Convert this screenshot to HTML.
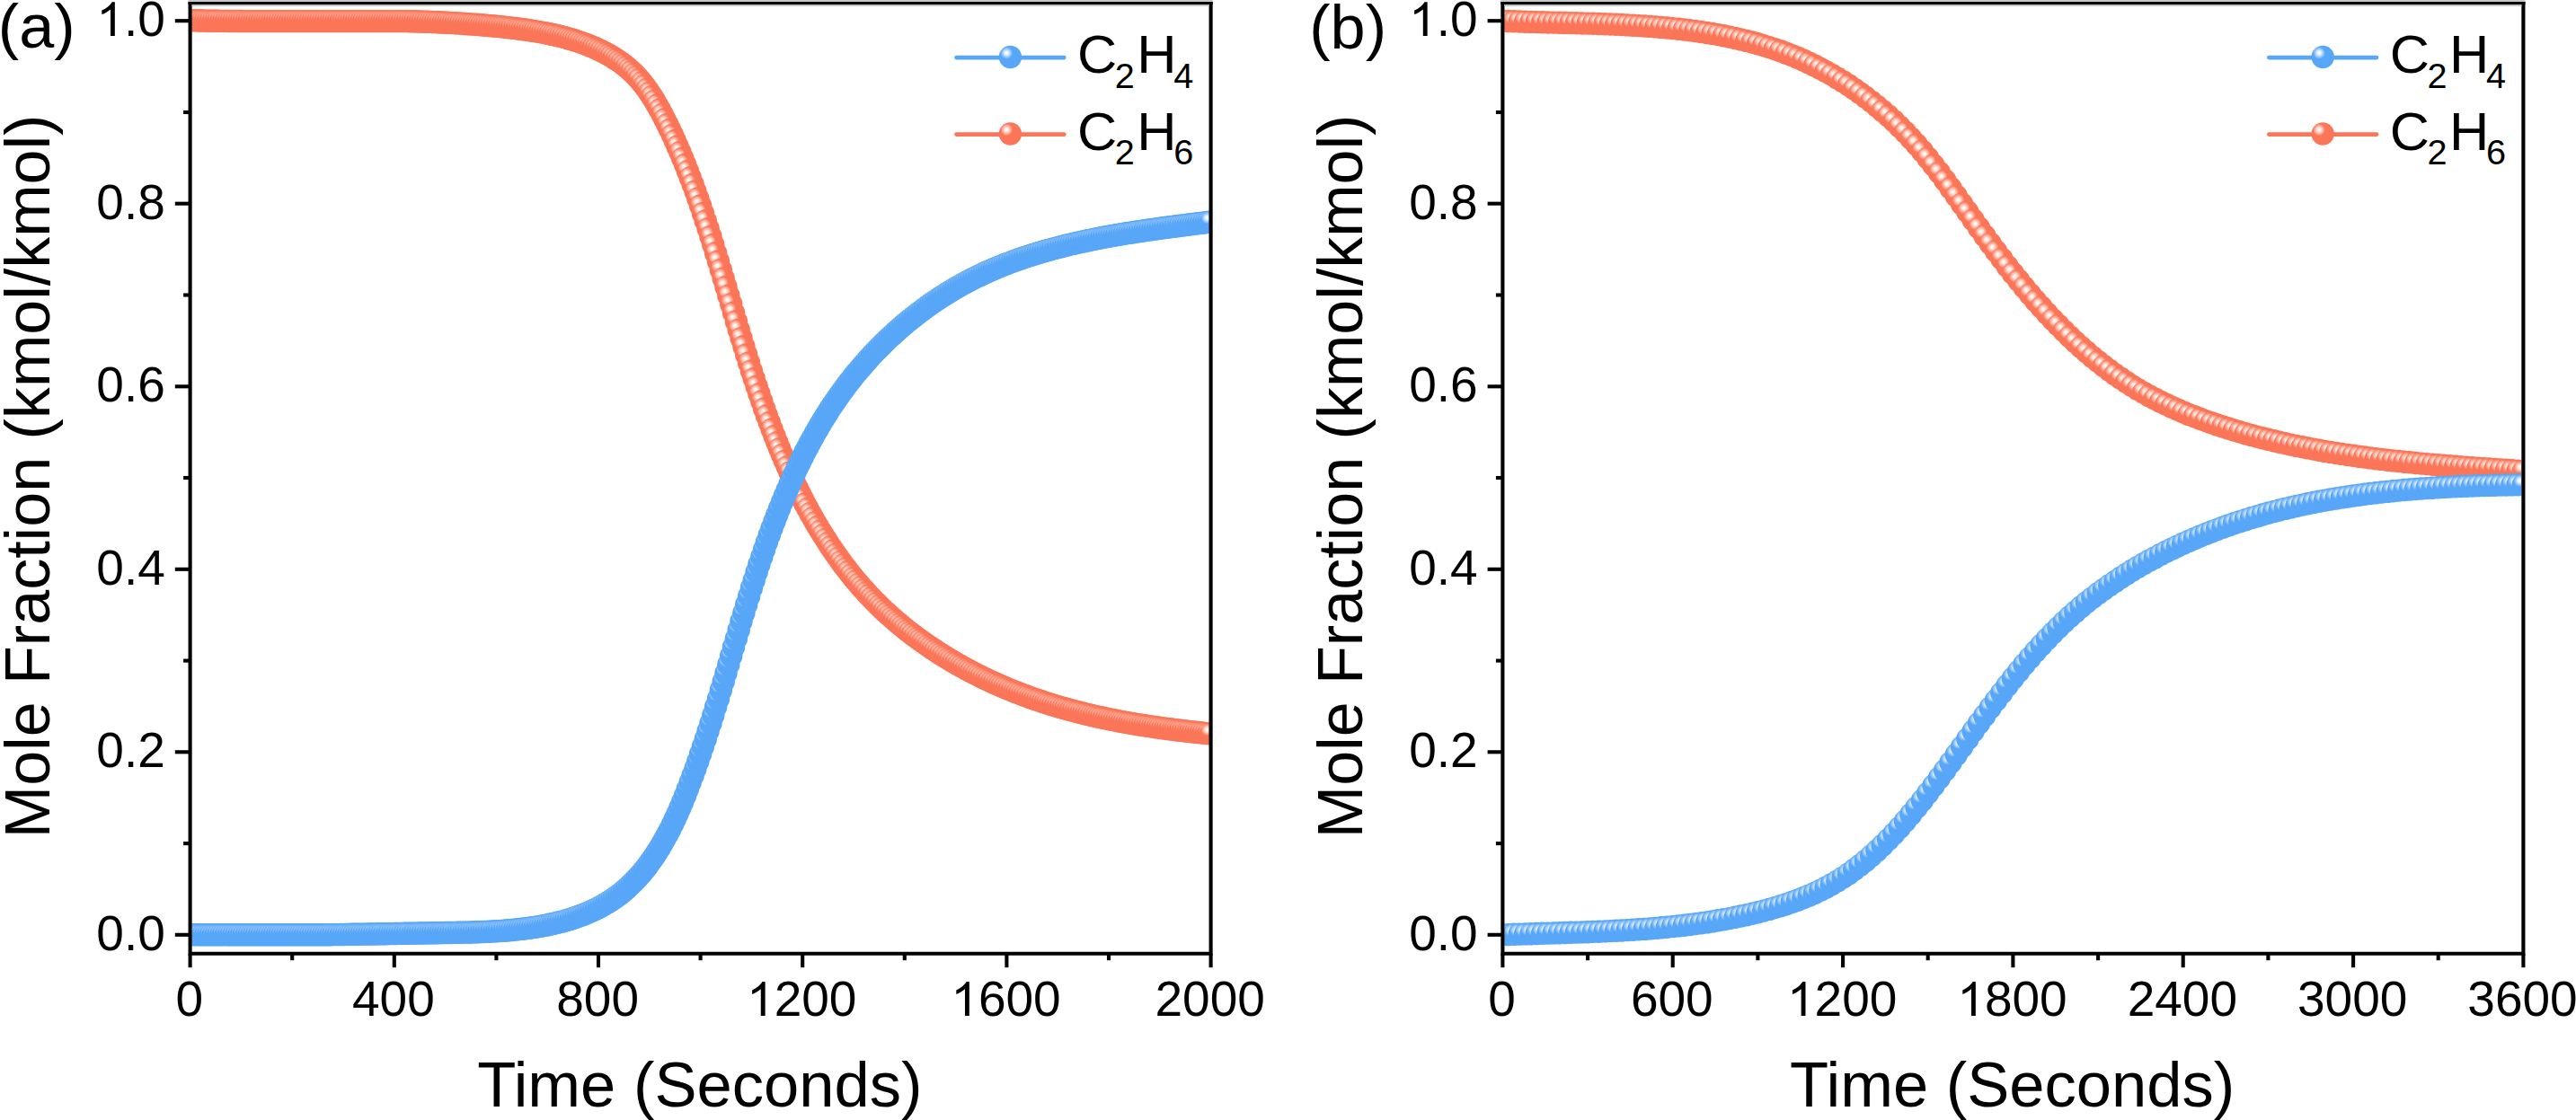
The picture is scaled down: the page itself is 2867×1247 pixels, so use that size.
<!DOCTYPE html>
<html><head><meta charset="utf-8"><style>
html,body{margin:0;padding:0;background:#fff;}
svg{display:block;}
#w{width:2867px;height:1247px;}
text{font-family:"Liberation Sans", sans-serif;fill:#000;}
.tl{font-size:55px;}
.at{font-size:69.5px;}
.pl{font-size:69px;}
.lg{font-size:59.5px;}
.sb{font-size:38.5px;}
</style></head>
<body><div id="w"><svg width="2867" height="1247" viewBox="0 0 2867 1247">
<rect width="2867" height="1247" fill="#fff"/>

<defs>
<radialGradient id="gb" cx="0.34" cy="0.32" r="0.27">
<stop offset="0" stop-color="#ffffff"/><stop offset="0.25" stop-color="#eef6ff"/><stop offset="1" stop-color="#57a6f8"/></radialGradient>
<radialGradient id="gr" cx="0.34" cy="0.32" r="0.27">
<stop offset="0" stop-color="#ffffff"/><stop offset="0.25" stop-color="#fff0ea"/><stop offset="1" stop-color="#fb7658"/></radialGradient>
<circle id="mb" r="12.7" fill="url(#gb)"/>
<circle id="mr" r="12.7" fill="url(#gr)"/>
</defs>
<clipPath id="ca"><rect x="213.7" y="5.4" width="1131.9" height="1054.2"/></clipPath>
<g clip-path="url(#ca)">
<use href="#mr" x="211.6" y="22.7"/>
<use href="#mr" x="214.4" y="22.8"/>
<use href="#mr" x="217.3" y="22.8"/>
<use href="#mr" x="220.1" y="22.9"/>
<use href="#mr" x="223.0" y="23.0"/>
<use href="#mr" x="225.8" y="23.0"/>
<use href="#mr" x="228.6" y="23.1"/>
<use href="#mr" x="231.5" y="23.2"/>
<use href="#mr" x="234.3" y="23.2"/>
<use href="#mr" x="237.2" y="23.3"/>
<use href="#mr" x="240.0" y="23.3"/>
<use href="#mr" x="242.8" y="23.3"/>
<use href="#mr" x="245.7" y="23.4"/>
<use href="#mr" x="248.5" y="23.4"/>
<use href="#mr" x="251.4" y="23.4"/>
<use href="#mr" x="254.2" y="23.5"/>
<use href="#mr" x="257.0" y="23.5"/>
<use href="#mr" x="259.9" y="23.5"/>
<use href="#mr" x="262.7" y="23.5"/>
<use href="#mr" x="265.6" y="23.5"/>
<use href="#mr" x="268.4" y="23.5"/>
<use href="#mr" x="271.2" y="23.6"/>
<use href="#mr" x="274.1" y="23.6"/>
<use href="#mr" x="276.9" y="23.6"/>
<use href="#mr" x="279.8" y="23.6"/>
<use href="#mr" x="282.6" y="23.6"/>
<use href="#mr" x="285.4" y="23.6"/>
<use href="#mr" x="288.3" y="23.6"/>
<use href="#mr" x="291.1" y="23.6"/>
<use href="#mr" x="294.0" y="23.6"/>
<use href="#mr" x="296.8" y="23.6"/>
<use href="#mr" x="299.6" y="23.6"/>
<use href="#mr" x="302.5" y="23.6"/>
<use href="#mr" x="305.3" y="23.6"/>
<use href="#mr" x="308.2" y="23.6"/>
<use href="#mr" x="311.0" y="23.6"/>
<use href="#mr" x="313.8" y="23.6"/>
<use href="#mr" x="316.7" y="23.6"/>
<use href="#mr" x="319.5" y="23.6"/>
<use href="#mr" x="322.4" y="23.6"/>
<use href="#mr" x="325.2" y="23.6"/>
<use href="#mr" x="328.0" y="23.6"/>
<use href="#mr" x="330.9" y="23.6"/>
<use href="#mr" x="333.7" y="23.6"/>
<use href="#mr" x="336.6" y="23.6"/>
<use href="#mr" x="339.4" y="23.6"/>
<use href="#mr" x="342.2" y="23.6"/>
<use href="#mr" x="345.1" y="23.6"/>
<use href="#mr" x="347.9" y="23.6"/>
<use href="#mr" x="350.8" y="23.6"/>
<use href="#mr" x="353.6" y="23.6"/>
<use href="#mr" x="356.4" y="23.6"/>
<use href="#mr" x="359.3" y="23.6"/>
<use href="#mr" x="362.1" y="23.6"/>
<use href="#mr" x="365.0" y="23.6"/>
<use href="#mr" x="367.8" y="23.6"/>
<use href="#mr" x="370.6" y="23.6"/>
<use href="#mr" x="373.5" y="23.6"/>
<use href="#mr" x="376.3" y="23.6"/>
<use href="#mr" x="379.2" y="23.6"/>
<use href="#mr" x="382.0" y="23.6"/>
<use href="#mr" x="384.8" y="23.6"/>
<use href="#mr" x="387.7" y="23.6"/>
<use href="#mr" x="390.5" y="23.6"/>
<use href="#mr" x="393.4" y="23.6"/>
<use href="#mr" x="396.2" y="23.6"/>
<use href="#mr" x="399.0" y="23.6"/>
<use href="#mr" x="401.9" y="23.6"/>
<use href="#mr" x="404.7" y="23.6"/>
<use href="#mr" x="407.6" y="23.6"/>
<use href="#mr" x="410.4" y="23.6"/>
<use href="#mr" x="413.2" y="23.6"/>
<use href="#mr" x="416.1" y="23.6"/>
<use href="#mr" x="418.9" y="23.6"/>
<use href="#mr" x="421.8" y="23.6"/>
<use href="#mr" x="424.6" y="23.6"/>
<use href="#mr" x="427.4" y="23.6"/>
<use href="#mr" x="430.3" y="23.6"/>
<use href="#mr" x="433.1" y="23.6"/>
<use href="#mr" x="436.0" y="23.6"/>
<use href="#mr" x="438.8" y="23.6"/>
<use href="#mr" x="441.6" y="23.6"/>
<use href="#mr" x="444.5" y="23.6"/>
<use href="#mr" x="447.3" y="23.6"/>
<use href="#mr" x="450.2" y="23.6"/>
<use href="#mr" x="453.0" y="23.6"/>
<use href="#mr" x="455.8" y="23.7"/>
<use href="#mr" x="458.7" y="23.8"/>
<use href="#mr" x="461.5" y="23.8"/>
<use href="#mr" x="464.4" y="23.9"/>
<use href="#mr" x="467.2" y="24.0"/>
<use href="#mr" x="470.0" y="24.1"/>
<use href="#mr" x="472.9" y="24.2"/>
<use href="#mr" x="475.7" y="24.3"/>
<use href="#mr" x="478.6" y="24.4"/>
<use href="#mr" x="481.4" y="24.5"/>
<use href="#mr" x="484.2" y="24.6"/>
<use href="#mr" x="487.1" y="24.7"/>
<use href="#mr" x="489.9" y="24.9"/>
<use href="#mr" x="492.8" y="25.0"/>
<use href="#mr" x="495.6" y="25.1"/>
<use href="#mr" x="498.4" y="25.3"/>
<use href="#mr" x="501.3" y="25.4"/>
<use href="#mr" x="504.1" y="25.6"/>
<use href="#mr" x="507.0" y="25.8"/>
<use href="#mr" x="509.8" y="25.9"/>
<use href="#mr" x="512.6" y="26.1"/>
<use href="#mr" x="515.5" y="26.3"/>
<use href="#mr" x="518.3" y="26.5"/>
<use href="#mr" x="521.2" y="26.7"/>
<use href="#mr" x="524.0" y="26.9"/>
<use href="#mr" x="526.8" y="27.1"/>
<use href="#mr" x="529.7" y="27.3"/>
<use href="#mr" x="532.5" y="27.5"/>
<use href="#mr" x="535.4" y="27.7"/>
<use href="#mr" x="538.2" y="28.0"/>
<use href="#mr" x="541.0" y="28.2"/>
<use href="#mr" x="543.9" y="28.5"/>
<use href="#mr" x="546.7" y="28.7"/>
<use href="#mr" x="549.6" y="29.0"/>
<use href="#mr" x="552.4" y="29.3"/>
<use href="#mr" x="555.2" y="29.6"/>
<use href="#mr" x="558.1" y="29.8"/>
<use href="#mr" x="560.9" y="30.1"/>
<use href="#mr" x="563.8" y="30.5"/>
<use href="#mr" x="566.6" y="30.8"/>
<use href="#mr" x="569.4" y="31.1"/>
<use href="#mr" x="572.3" y="31.4"/>
<use href="#mr" x="575.1" y="31.8"/>
<use href="#mr" x="578.0" y="32.1"/>
<use href="#mr" x="580.8" y="32.5"/>
<use href="#mr" x="583.6" y="32.9"/>
<use href="#mr" x="586.5" y="33.3"/>
<use href="#mr" x="589.3" y="33.7"/>
<use href="#mr" x="592.2" y="34.2"/>
<use href="#mr" x="595.0" y="34.6"/>
<use href="#mr" x="597.8" y="35.1"/>
<use href="#mr" x="600.7" y="35.6"/>
<use href="#mr" x="603.5" y="36.1"/>
<use href="#mr" x="606.4" y="36.6"/>
<use href="#mr" x="609.2" y="37.2"/>
<use href="#mr" x="612.0" y="37.8"/>
<use href="#mr" x="614.9" y="38.4"/>
<use href="#mr" x="617.7" y="39.0"/>
<use href="#mr" x="620.6" y="39.7"/>
<use href="#mr" x="623.4" y="40.3"/>
<use href="#mr" x="626.2" y="41.1"/>
<use href="#mr" x="629.1" y="41.8"/>
<use href="#mr" x="631.9" y="42.6"/>
<use href="#mr" x="634.8" y="43.4"/>
<use href="#mr" x="637.6" y="44.3"/>
<use href="#mr" x="640.4" y="45.2"/>
<use href="#mr" x="643.3" y="46.1"/>
<use href="#mr" x="646.1" y="47.1"/>
<use href="#mr" x="649.0" y="48.1"/>
<use href="#mr" x="651.8" y="49.1"/>
<use href="#mr" x="654.6" y="50.2"/>
<use href="#mr" x="657.5" y="51.4"/>
<use href="#mr" x="660.3" y="52.6"/>
<use href="#mr" x="663.2" y="53.8"/>
<use href="#mr" x="666.0" y="55.2"/>
<use href="#mr" x="668.8" y="56.5"/>
<use href="#mr" x="671.7" y="57.9"/>
<use href="#mr" x="674.5" y="59.4"/>
<use href="#mr" x="677.4" y="61.0"/>
<use href="#mr" x="680.2" y="62.6"/>
<use href="#mr" x="683.0" y="64.4"/>
<use href="#mr" x="685.9" y="66.2"/>
<use href="#mr" x="688.7" y="68.1"/>
<use href="#mr" x="691.6" y="70.1"/>
<use href="#mr" x="694.4" y="72.2"/>
<use href="#mr" x="697.2" y="74.5"/>
<use href="#mr" x="700.1" y="76.9"/>
<use href="#mr" x="702.9" y="79.5"/>
<use href="#mr" x="705.8" y="82.2"/>
<use href="#mr" x="708.6" y="85.2"/>
<use href="#mr" x="711.4" y="88.3"/>
<use href="#mr" x="714.3" y="91.7"/>
<use href="#mr" x="717.1" y="95.3"/>
<use href="#mr" x="720.0" y="99.2"/>
<use href="#mr" x="722.8" y="103.2"/>
<use href="#mr" x="725.6" y="107.5"/>
<use href="#mr" x="728.5" y="112.1"/>
<use href="#mr" x="731.3" y="116.9"/>
<use href="#mr" x="734.2" y="122.0"/>
<use href="#mr" x="737.0" y="127.2"/>
<use href="#mr" x="739.8" y="132.7"/>
<use href="#mr" x="742.7" y="138.4"/>
<use href="#mr" x="745.5" y="144.2"/>
<use href="#mr" x="748.4" y="150.3"/>
<use href="#mr" x="751.2" y="156.5"/>
<use href="#mr" x="754.0" y="162.9"/>
<use href="#mr" x="756.9" y="169.5"/>
<use href="#mr" x="759.7" y="176.3"/>
<use href="#mr" x="762.6" y="183.3"/>
<use href="#mr" x="765.4" y="190.4"/>
<use href="#mr" x="768.2" y="197.7"/>
<use href="#mr" x="771.1" y="205.3"/>
<use href="#mr" x="773.9" y="213.0"/>
<use href="#mr" x="776.8" y="220.9"/>
<use href="#mr" x="779.6" y="229.0"/>
<use href="#mr" x="782.4" y="237.4"/>
<use href="#mr" x="785.3" y="245.9"/>
<use href="#mr" x="788.1" y="254.6"/>
<use href="#mr" x="791.0" y="263.4"/>
<use href="#mr" x="793.8" y="272.5"/>
<use href="#mr" x="796.6" y="281.7"/>
<use href="#mr" x="799.5" y="291.0"/>
<use href="#mr" x="802.3" y="300.4"/>
<use href="#mr" x="805.2" y="309.9"/>
<use href="#mr" x="808.0" y="319.5"/>
<use href="#mr" x="810.8" y="329.1"/>
<use href="#mr" x="813.7" y="338.6"/>
<use href="#mr" x="816.5" y="348.2"/>
<use href="#mr" x="819.4" y="357.7"/>
<use href="#mr" x="822.2" y="367.2"/>
<use href="#mr" x="825.0" y="376.6"/>
<use href="#mr" x="827.9" y="385.8"/>
<use href="#mr" x="830.7" y="395.0"/>
<use href="#mr" x="833.6" y="404.0"/>
<use href="#mr" x="836.4" y="412.9"/>
<use href="#mr" x="839.2" y="421.6"/>
<use href="#mr" x="842.1" y="430.2"/>
<use href="#mr" x="844.9" y="438.6"/>
<use href="#mr" x="847.8" y="446.8"/>
<use href="#mr" x="850.6" y="454.9"/>
<use href="#mr" x="853.4" y="462.8"/>
<use href="#mr" x="856.3" y="470.5"/>
<use href="#mr" x="859.1" y="478.0"/>
<use href="#mr" x="862.0" y="485.4"/>
<use href="#mr" x="864.8" y="492.6"/>
<use href="#mr" x="867.6" y="499.6"/>
<use href="#mr" x="870.5" y="506.4"/>
<use href="#mr" x="873.3" y="513.1"/>
<use href="#mr" x="876.2" y="519.6"/>
<use href="#mr" x="879.0" y="525.9"/>
<use href="#mr" x="881.8" y="532.1"/>
<use href="#mr" x="884.7" y="538.2"/>
<use href="#mr" x="887.5" y="544.1"/>
<use href="#mr" x="890.4" y="549.8"/>
<use href="#mr" x="893.2" y="555.4"/>
<use href="#mr" x="896.0" y="560.9"/>
<use href="#mr" x="898.9" y="566.2"/>
<use href="#mr" x="901.7" y="571.4"/>
<use href="#mr" x="904.6" y="576.5"/>
<use href="#mr" x="907.4" y="581.5"/>
<use href="#mr" x="910.2" y="586.3"/>
<use href="#mr" x="913.1" y="591.0"/>
<use href="#mr" x="915.9" y="595.6"/>
<use href="#mr" x="918.8" y="600.1"/>
<use href="#mr" x="921.6" y="604.5"/>
<use href="#mr" x="924.4" y="608.8"/>
<use href="#mr" x="927.3" y="613.0"/>
<use href="#mr" x="930.1" y="617.1"/>
<use href="#mr" x="933.0" y="621.1"/>
<use href="#mr" x="935.8" y="625.1"/>
<use href="#mr" x="938.6" y="628.9"/>
<use href="#mr" x="941.5" y="632.6"/>
<use href="#mr" x="944.3" y="636.3"/>
<use href="#mr" x="947.2" y="639.9"/>
<use href="#mr" x="950.0" y="643.4"/>
<use href="#mr" x="952.8" y="646.8"/>
<use href="#mr" x="955.7" y="650.1"/>
<use href="#mr" x="958.5" y="653.4"/>
<use href="#mr" x="961.4" y="656.6"/>
<use href="#mr" x="964.2" y="659.7"/>
<use href="#mr" x="967.0" y="662.8"/>
<use href="#mr" x="969.9" y="665.8"/>
<use href="#mr" x="972.7" y="668.7"/>
<use href="#mr" x="975.6" y="671.6"/>
<use href="#mr" x="978.4" y="674.4"/>
<use href="#mr" x="981.2" y="677.2"/>
<use href="#mr" x="984.1" y="679.9"/>
<use href="#mr" x="986.9" y="682.5"/>
<use href="#mr" x="989.8" y="685.1"/>
<use href="#mr" x="992.6" y="687.6"/>
<use href="#mr" x="995.4" y="690.1"/>
<use href="#mr" x="998.3" y="692.6"/>
<use href="#mr" x="1001.1" y="694.9"/>
<use href="#mr" x="1004.0" y="697.3"/>
<use href="#mr" x="1006.8" y="699.6"/>
<use href="#mr" x="1009.6" y="701.9"/>
<use href="#mr" x="1012.5" y="704.1"/>
<use href="#mr" x="1015.3" y="706.3"/>
<use href="#mr" x="1018.2" y="708.4"/>
<use href="#mr" x="1021.0" y="710.5"/>
<use href="#mr" x="1023.8" y="712.6"/>
<use href="#mr" x="1026.7" y="714.6"/>
<use href="#mr" x="1029.5" y="716.6"/>
<use href="#mr" x="1032.4" y="718.6"/>
<use href="#mr" x="1035.2" y="720.5"/>
<use href="#mr" x="1038.0" y="722.4"/>
<use href="#mr" x="1040.9" y="724.3"/>
<use href="#mr" x="1043.7" y="726.2"/>
<use href="#mr" x="1046.6" y="728.0"/>
<use href="#mr" x="1049.4" y="729.8"/>
<use href="#mr" x="1052.2" y="731.5"/>
<use href="#mr" x="1055.1" y="733.3"/>
<use href="#mr" x="1057.9" y="735.0"/>
<use href="#mr" x="1060.8" y="736.7"/>
<use href="#mr" x="1063.6" y="738.3"/>
<use href="#mr" x="1066.4" y="739.9"/>
<use href="#mr" x="1069.3" y="741.5"/>
<use href="#mr" x="1072.1" y="743.1"/>
<use href="#mr" x="1075.0" y="744.7"/>
<use href="#mr" x="1077.8" y="746.2"/>
<use href="#mr" x="1080.6" y="747.7"/>
<use href="#mr" x="1083.5" y="749.2"/>
<use href="#mr" x="1086.3" y="750.6"/>
<use href="#mr" x="1089.2" y="752.1"/>
<use href="#mr" x="1092.0" y="753.5"/>
<use href="#mr" x="1094.8" y="754.9"/>
<use href="#mr" x="1097.7" y="756.2"/>
<use href="#mr" x="1100.5" y="757.6"/>
<use href="#mr" x="1103.4" y="758.9"/>
<use href="#mr" x="1106.2" y="760.2"/>
<use href="#mr" x="1109.0" y="761.5"/>
<use href="#mr" x="1111.9" y="762.8"/>
<use href="#mr" x="1114.7" y="764.0"/>
<use href="#mr" x="1117.6" y="765.2"/>
<use href="#mr" x="1120.4" y="766.4"/>
<use href="#mr" x="1123.2" y="767.6"/>
<use href="#mr" x="1126.1" y="768.8"/>
<use href="#mr" x="1128.9" y="769.9"/>
<use href="#mr" x="1131.8" y="771.0"/>
<use href="#mr" x="1134.6" y="772.1"/>
<use href="#mr" x="1137.4" y="773.2"/>
<use href="#mr" x="1140.3" y="774.3"/>
<use href="#mr" x="1143.1" y="775.3"/>
<use href="#mr" x="1146.0" y="776.4"/>
<use href="#mr" x="1148.8" y="777.4"/>
<use href="#mr" x="1151.6" y="778.4"/>
<use href="#mr" x="1154.5" y="779.3"/>
<use href="#mr" x="1157.3" y="780.3"/>
<use href="#mr" x="1160.2" y="781.2"/>
<use href="#mr" x="1163.0" y="782.2"/>
<use href="#mr" x="1165.8" y="783.1"/>
<use href="#mr" x="1168.7" y="784.0"/>
<use href="#mr" x="1171.5" y="784.9"/>
<use href="#mr" x="1174.4" y="785.7"/>
<use href="#mr" x="1177.2" y="786.6"/>
<use href="#mr" x="1180.0" y="787.4"/>
<use href="#mr" x="1182.9" y="788.2"/>
<use href="#mr" x="1185.7" y="789.0"/>
<use href="#mr" x="1188.6" y="789.8"/>
<use href="#mr" x="1191.4" y="790.6"/>
<use href="#mr" x="1194.2" y="791.3"/>
<use href="#mr" x="1197.1" y="792.1"/>
<use href="#mr" x="1199.9" y="792.8"/>
<use href="#mr" x="1202.8" y="793.5"/>
<use href="#mr" x="1205.6" y="794.2"/>
<use href="#mr" x="1208.4" y="794.9"/>
<use href="#mr" x="1211.3" y="795.6"/>
<use href="#mr" x="1214.1" y="796.3"/>
<use href="#mr" x="1217.0" y="796.9"/>
<use href="#mr" x="1219.8" y="797.6"/>
<use href="#mr" x="1222.6" y="798.2"/>
<use href="#mr" x="1225.5" y="798.8"/>
<use href="#mr" x="1228.3" y="799.4"/>
<use href="#mr" x="1231.2" y="800.0"/>
<use href="#mr" x="1234.0" y="800.6"/>
<use href="#mr" x="1236.8" y="801.2"/>
<use href="#mr" x="1239.7" y="801.8"/>
<use href="#mr" x="1242.5" y="802.3"/>
<use href="#mr" x="1245.4" y="802.9"/>
<use href="#mr" x="1248.2" y="803.4"/>
<use href="#mr" x="1251.0" y="803.9"/>
<use href="#mr" x="1253.9" y="804.4"/>
<use href="#mr" x="1256.7" y="804.9"/>
<use href="#mr" x="1259.6" y="805.4"/>
<use href="#mr" x="1262.4" y="805.9"/>
<use href="#mr" x="1265.2" y="806.4"/>
<use href="#mr" x="1268.1" y="806.9"/>
<use href="#mr" x="1270.9" y="807.3"/>
<use href="#mr" x="1273.8" y="807.8"/>
<use href="#mr" x="1276.6" y="808.2"/>
<use href="#mr" x="1279.4" y="808.6"/>
<use href="#mr" x="1282.3" y="809.1"/>
<use href="#mr" x="1285.1" y="809.5"/>
<use href="#mr" x="1288.0" y="809.9"/>
<use href="#mr" x="1290.8" y="810.3"/>
<use href="#mr" x="1293.6" y="810.7"/>
<use href="#mr" x="1296.5" y="811.1"/>
<use href="#mr" x="1299.3" y="811.5"/>
<use href="#mr" x="1302.2" y="811.8"/>
<use href="#mr" x="1305.0" y="812.2"/>
<use href="#mr" x="1307.8" y="812.6"/>
<use href="#mr" x="1310.7" y="812.9"/>
<use href="#mr" x="1313.5" y="813.3"/>
<use href="#mr" x="1316.4" y="813.6"/>
<use href="#mr" x="1319.2" y="813.9"/>
<use href="#mr" x="1322.0" y="814.3"/>
<use href="#mr" x="1324.9" y="814.6"/>
<use href="#mr" x="1327.7" y="814.9"/>
<use href="#mr" x="1330.6" y="815.2"/>
<use href="#mr" x="1333.4" y="815.5"/>
<use href="#mr" x="1336.2" y="815.8"/>
<use href="#mr" x="1339.1" y="816.1"/>
<use href="#mr" x="1341.9" y="816.4"/>
<use href="#mr" x="1344.8" y="816.7"/>
<use href="#mr" x="1347.6" y="817.0"/>
<use href="#mb" x="211.6" y="1040.8"/>
<use href="#mb" x="214.4" y="1040.8"/>
<use href="#mb" x="217.3" y="1040.8"/>
<use href="#mb" x="220.1" y="1040.8"/>
<use href="#mb" x="223.0" y="1040.8"/>
<use href="#mb" x="225.8" y="1040.8"/>
<use href="#mb" x="228.6" y="1040.8"/>
<use href="#mb" x="231.5" y="1040.8"/>
<use href="#mb" x="234.3" y="1040.8"/>
<use href="#mb" x="237.2" y="1040.8"/>
<use href="#mb" x="240.0" y="1040.8"/>
<use href="#mb" x="242.8" y="1040.8"/>
<use href="#mb" x="245.7" y="1040.8"/>
<use href="#mb" x="248.5" y="1040.8"/>
<use href="#mb" x="251.4" y="1040.8"/>
<use href="#mb" x="254.2" y="1040.8"/>
<use href="#mb" x="257.0" y="1040.8"/>
<use href="#mb" x="259.9" y="1040.8"/>
<use href="#mb" x="262.7" y="1040.8"/>
<use href="#mb" x="265.6" y="1040.8"/>
<use href="#mb" x="268.4" y="1040.8"/>
<use href="#mb" x="271.2" y="1040.8"/>
<use href="#mb" x="274.1" y="1040.8"/>
<use href="#mb" x="276.9" y="1040.8"/>
<use href="#mb" x="279.8" y="1040.8"/>
<use href="#mb" x="282.6" y="1040.8"/>
<use href="#mb" x="285.4" y="1040.8"/>
<use href="#mb" x="288.3" y="1040.8"/>
<use href="#mb" x="291.1" y="1040.8"/>
<use href="#mb" x="294.0" y="1040.8"/>
<use href="#mb" x="296.8" y="1040.8"/>
<use href="#mb" x="299.6" y="1040.8"/>
<use href="#mb" x="302.5" y="1040.8"/>
<use href="#mb" x="305.3" y="1040.8"/>
<use href="#mb" x="308.2" y="1040.8"/>
<use href="#mb" x="311.0" y="1040.8"/>
<use href="#mb" x="313.8" y="1040.8"/>
<use href="#mb" x="316.7" y="1040.8"/>
<use href="#mb" x="319.5" y="1040.8"/>
<use href="#mb" x="322.4" y="1040.8"/>
<use href="#mb" x="325.2" y="1040.8"/>
<use href="#mb" x="328.0" y="1040.8"/>
<use href="#mb" x="330.9" y="1040.8"/>
<use href="#mb" x="333.7" y="1040.8"/>
<use href="#mb" x="336.6" y="1040.8"/>
<use href="#mb" x="339.4" y="1040.8"/>
<use href="#mb" x="342.2" y="1040.8"/>
<use href="#mb" x="345.1" y="1040.8"/>
<use href="#mb" x="347.9" y="1040.8"/>
<use href="#mb" x="350.8" y="1040.8"/>
<use href="#mb" x="353.6" y="1040.8"/>
<use href="#mb" x="356.4" y="1040.8"/>
<use href="#mb" x="359.3" y="1040.8"/>
<use href="#mb" x="362.1" y="1040.8"/>
<use href="#mb" x="365.0" y="1040.7"/>
<use href="#mb" x="367.8" y="1040.7"/>
<use href="#mb" x="370.6" y="1040.6"/>
<use href="#mb" x="373.5" y="1040.6"/>
<use href="#mb" x="376.3" y="1040.6"/>
<use href="#mb" x="379.2" y="1040.5"/>
<use href="#mb" x="382.0" y="1040.5"/>
<use href="#mb" x="384.8" y="1040.4"/>
<use href="#mb" x="387.7" y="1040.4"/>
<use href="#mb" x="390.5" y="1040.3"/>
<use href="#mb" x="393.4" y="1040.3"/>
<use href="#mb" x="396.2" y="1040.2"/>
<use href="#mb" x="399.0" y="1040.2"/>
<use href="#mb" x="401.9" y="1040.1"/>
<use href="#mb" x="404.7" y="1040.1"/>
<use href="#mb" x="407.6" y="1040.1"/>
<use href="#mb" x="410.4" y="1040.0"/>
<use href="#mb" x="413.2" y="1040.0"/>
<use href="#mb" x="416.1" y="1039.9"/>
<use href="#mb" x="418.9" y="1039.9"/>
<use href="#mb" x="421.8" y="1039.8"/>
<use href="#mb" x="424.6" y="1039.8"/>
<use href="#mb" x="427.4" y="1039.7"/>
<use href="#mb" x="430.3" y="1039.7"/>
<use href="#mb" x="433.1" y="1039.6"/>
<use href="#mb" x="436.0" y="1039.6"/>
<use href="#mb" x="438.8" y="1039.5"/>
<use href="#mb" x="441.6" y="1039.5"/>
<use href="#mb" x="444.5" y="1039.4"/>
<use href="#mb" x="447.3" y="1039.4"/>
<use href="#mb" x="450.2" y="1039.3"/>
<use href="#mb" x="453.0" y="1039.3"/>
<use href="#mb" x="455.8" y="1039.2"/>
<use href="#mb" x="458.7" y="1039.2"/>
<use href="#mb" x="461.5" y="1039.1"/>
<use href="#mb" x="464.4" y="1039.1"/>
<use href="#mb" x="467.2" y="1039.0"/>
<use href="#mb" x="470.0" y="1039.0"/>
<use href="#mb" x="472.9" y="1038.9"/>
<use href="#mb" x="475.7" y="1038.9"/>
<use href="#mb" x="478.6" y="1038.8"/>
<use href="#mb" x="481.4" y="1038.8"/>
<use href="#mb" x="484.2" y="1038.7"/>
<use href="#mb" x="487.1" y="1038.7"/>
<use href="#mb" x="489.9" y="1038.6"/>
<use href="#mb" x="492.8" y="1038.6"/>
<use href="#mb" x="495.6" y="1038.5"/>
<use href="#mb" x="498.4" y="1038.5"/>
<use href="#mb" x="501.3" y="1038.5"/>
<use href="#mb" x="504.1" y="1038.4"/>
<use href="#mb" x="507.0" y="1038.4"/>
<use href="#mb" x="509.8" y="1038.3"/>
<use href="#mb" x="512.6" y="1038.2"/>
<use href="#mb" x="515.5" y="1038.2"/>
<use href="#mb" x="518.3" y="1038.1"/>
<use href="#mb" x="521.2" y="1038.1"/>
<use href="#mb" x="524.0" y="1038.0"/>
<use href="#mb" x="526.8" y="1037.9"/>
<use href="#mb" x="529.7" y="1037.8"/>
<use href="#mb" x="532.5" y="1037.7"/>
<use href="#mb" x="535.4" y="1037.6"/>
<use href="#mb" x="538.2" y="1037.5"/>
<use href="#mb" x="541.0" y="1037.4"/>
<use href="#mb" x="543.9" y="1037.2"/>
<use href="#mb" x="546.7" y="1037.1"/>
<use href="#mb" x="549.6" y="1036.9"/>
<use href="#mb" x="552.4" y="1036.8"/>
<use href="#mb" x="555.2" y="1036.6"/>
<use href="#mb" x="558.1" y="1036.4"/>
<use href="#mb" x="560.9" y="1036.2"/>
<use href="#mb" x="563.8" y="1036.0"/>
<use href="#mb" x="566.6" y="1035.7"/>
<use href="#mb" x="569.4" y="1035.5"/>
<use href="#mb" x="572.3" y="1035.2"/>
<use href="#mb" x="575.1" y="1034.9"/>
<use href="#mb" x="578.0" y="1034.6"/>
<use href="#mb" x="580.8" y="1034.3"/>
<use href="#mb" x="583.6" y="1034.0"/>
<use href="#mb" x="586.5" y="1033.6"/>
<use href="#mb" x="589.3" y="1033.2"/>
<use href="#mb" x="592.2" y="1032.8"/>
<use href="#mb" x="595.0" y="1032.4"/>
<use href="#mb" x="597.8" y="1031.9"/>
<use href="#mb" x="600.7" y="1031.4"/>
<use href="#mb" x="603.5" y="1030.9"/>
<use href="#mb" x="606.4" y="1030.4"/>
<use href="#mb" x="609.2" y="1029.9"/>
<use href="#mb" x="612.0" y="1029.3"/>
<use href="#mb" x="614.9" y="1028.6"/>
<use href="#mb" x="617.7" y="1028.0"/>
<use href="#mb" x="620.6" y="1027.3"/>
<use href="#mb" x="623.4" y="1026.6"/>
<use href="#mb" x="626.2" y="1025.9"/>
<use href="#mb" x="629.1" y="1025.1"/>
<use href="#mb" x="631.9" y="1024.2"/>
<use href="#mb" x="634.8" y="1023.4"/>
<use href="#mb" x="637.6" y="1022.5"/>
<use href="#mb" x="640.4" y="1021.5"/>
<use href="#mb" x="643.3" y="1020.5"/>
<use href="#mb" x="646.1" y="1019.5"/>
<use href="#mb" x="649.0" y="1018.4"/>
<use href="#mb" x="651.8" y="1017.3"/>
<use href="#mb" x="654.6" y="1016.1"/>
<use href="#mb" x="657.5" y="1014.8"/>
<use href="#mb" x="660.3" y="1013.5"/>
<use href="#mb" x="663.2" y="1012.1"/>
<use href="#mb" x="666.0" y="1010.7"/>
<use href="#mb" x="668.8" y="1009.2"/>
<use href="#mb" x="671.7" y="1007.6"/>
<use href="#mb" x="674.5" y="1006.0"/>
<use href="#mb" x="677.4" y="1004.2"/>
<use href="#mb" x="680.2" y="1002.4"/>
<use href="#mb" x="683.0" y="1000.5"/>
<use href="#mb" x="685.9" y="998.5"/>
<use href="#mb" x="688.7" y="996.4"/>
<use href="#mb" x="691.6" y="994.2"/>
<use href="#mb" x="694.4" y="991.9"/>
<use href="#mb" x="697.2" y="989.4"/>
<use href="#mb" x="700.1" y="986.8"/>
<use href="#mb" x="702.9" y="984.1"/>
<use href="#mb" x="705.8" y="981.3"/>
<use href="#mb" x="708.6" y="978.3"/>
<use href="#mb" x="711.4" y="975.2"/>
<use href="#mb" x="714.3" y="971.9"/>
<use href="#mb" x="717.1" y="968.5"/>
<use href="#mb" x="720.0" y="964.9"/>
<use href="#mb" x="722.8" y="961.1"/>
<use href="#mb" x="725.6" y="957.1"/>
<use href="#mb" x="728.5" y="953.0"/>
<use href="#mb" x="731.3" y="948.6"/>
<use href="#mb" x="734.2" y="944.1"/>
<use href="#mb" x="737.0" y="939.3"/>
<use href="#mb" x="739.8" y="934.3"/>
<use href="#mb" x="742.7" y="929.1"/>
<use href="#mb" x="745.5" y="923.7"/>
<use href="#mb" x="748.4" y="918.0"/>
<use href="#mb" x="751.2" y="912.0"/>
<use href="#mb" x="754.0" y="905.9"/>
<use href="#mb" x="756.9" y="899.4"/>
<use href="#mb" x="759.7" y="892.7"/>
<use href="#mb" x="762.6" y="885.8"/>
<use href="#mb" x="765.4" y="878.6"/>
<use href="#mb" x="768.2" y="871.1"/>
<use href="#mb" x="771.1" y="863.5"/>
<use href="#mb" x="773.9" y="855.7"/>
<use href="#mb" x="776.8" y="847.7"/>
<use href="#mb" x="779.6" y="839.6"/>
<use href="#mb" x="782.4" y="831.2"/>
<use href="#mb" x="785.3" y="822.7"/>
<use href="#mb" x="788.1" y="814.1"/>
<use href="#mb" x="791.0" y="805.2"/>
<use href="#mb" x="793.8" y="796.2"/>
<use href="#mb" x="796.6" y="787.1"/>
<use href="#mb" x="799.5" y="777.9"/>
<use href="#mb" x="802.3" y="768.5"/>
<use href="#mb" x="805.2" y="759.0"/>
<use href="#mb" x="808.0" y="749.5"/>
<use href="#mb" x="810.8" y="739.9"/>
<use href="#mb" x="813.7" y="730.2"/>
<use href="#mb" x="816.5" y="720.6"/>
<use href="#mb" x="819.4" y="711.0"/>
<use href="#mb" x="822.2" y="701.4"/>
<use href="#mb" x="825.0" y="691.8"/>
<use href="#mb" x="827.9" y="682.4"/>
<use href="#mb" x="830.7" y="673.1"/>
<use href="#mb" x="833.6" y="663.9"/>
<use href="#mb" x="836.4" y="654.8"/>
<use href="#mb" x="839.2" y="645.9"/>
<use href="#mb" x="842.1" y="637.1"/>
<use href="#mb" x="844.9" y="628.5"/>
<use href="#mb" x="847.8" y="620.1"/>
<use href="#mb" x="850.6" y="611.8"/>
<use href="#mb" x="853.4" y="603.7"/>
<use href="#mb" x="856.3" y="595.8"/>
<use href="#mb" x="859.1" y="588.1"/>
<use href="#mb" x="862.0" y="580.6"/>
<use href="#mb" x="864.8" y="573.2"/>
<use href="#mb" x="867.6" y="566.1"/>
<use href="#mb" x="870.5" y="559.1"/>
<use href="#mb" x="873.3" y="552.2"/>
<use href="#mb" x="876.2" y="545.6"/>
<use href="#mb" x="879.0" y="539.1"/>
<use href="#mb" x="881.8" y="532.7"/>
<use href="#mb" x="884.7" y="526.6"/>
<use href="#mb" x="887.5" y="520.5"/>
<use href="#mb" x="890.4" y="514.7"/>
<use href="#mb" x="893.2" y="508.9"/>
<use href="#mb" x="896.0" y="503.3"/>
<use href="#mb" x="898.9" y="497.9"/>
<use href="#mb" x="901.7" y="492.6"/>
<use href="#mb" x="904.6" y="487.4"/>
<use href="#mb" x="907.4" y="482.3"/>
<use href="#mb" x="910.2" y="477.4"/>
<use href="#mb" x="913.1" y="472.5"/>
<use href="#mb" x="915.9" y="467.8"/>
<use href="#mb" x="918.8" y="463.2"/>
<use href="#mb" x="921.6" y="458.7"/>
<use href="#mb" x="924.4" y="454.3"/>
<use href="#mb" x="927.3" y="450.1"/>
<use href="#mb" x="930.1" y="445.9"/>
<use href="#mb" x="933.0" y="441.8"/>
<use href="#mb" x="935.8" y="437.8"/>
<use href="#mb" x="938.6" y="433.9"/>
<use href="#mb" x="941.5" y="430.1"/>
<use href="#mb" x="944.3" y="426.3"/>
<use href="#mb" x="947.2" y="422.7"/>
<use href="#mb" x="950.0" y="419.1"/>
<use href="#mb" x="952.8" y="415.6"/>
<use href="#mb" x="955.7" y="412.2"/>
<use href="#mb" x="958.5" y="408.9"/>
<use href="#mb" x="961.4" y="405.6"/>
<use href="#mb" x="964.2" y="402.4"/>
<use href="#mb" x="967.0" y="399.2"/>
<use href="#mb" x="969.9" y="396.1"/>
<use href="#mb" x="972.7" y="393.1"/>
<use href="#mb" x="975.6" y="390.1"/>
<use href="#mb" x="978.4" y="387.2"/>
<use href="#mb" x="981.2" y="384.4"/>
<use href="#mb" x="984.1" y="381.6"/>
<use href="#mb" x="986.9" y="378.8"/>
<use href="#mb" x="989.8" y="376.1"/>
<use href="#mb" x="992.6" y="373.5"/>
<use href="#mb" x="995.4" y="370.9"/>
<use href="#mb" x="998.3" y="368.3"/>
<use href="#mb" x="1001.1" y="365.8"/>
<use href="#mb" x="1004.0" y="363.3"/>
<use href="#mb" x="1006.8" y="360.9"/>
<use href="#mb" x="1009.6" y="358.5"/>
<use href="#mb" x="1012.5" y="356.2"/>
<use href="#mb" x="1015.3" y="353.9"/>
<use href="#mb" x="1018.2" y="351.7"/>
<use href="#mb" x="1021.0" y="349.5"/>
<use href="#mb" x="1023.8" y="347.3"/>
<use href="#mb" x="1026.7" y="345.2"/>
<use href="#mb" x="1029.5" y="343.1"/>
<use href="#mb" x="1032.4" y="341.0"/>
<use href="#mb" x="1035.2" y="339.0"/>
<use href="#mb" x="1038.0" y="337.0"/>
<use href="#mb" x="1040.9" y="335.1"/>
<use href="#mb" x="1043.7" y="333.2"/>
<use href="#mb" x="1046.6" y="331.3"/>
<use href="#mb" x="1049.4" y="329.5"/>
<use href="#mb" x="1052.2" y="327.7"/>
<use href="#mb" x="1055.1" y="325.9"/>
<use href="#mb" x="1057.9" y="324.2"/>
<use href="#mb" x="1060.8" y="322.5"/>
<use href="#mb" x="1063.6" y="320.8"/>
<use href="#mb" x="1066.4" y="319.2"/>
<use href="#mb" x="1069.3" y="317.6"/>
<use href="#mb" x="1072.1" y="316.0"/>
<use href="#mb" x="1075.0" y="314.5"/>
<use href="#mb" x="1077.8" y="312.9"/>
<use href="#mb" x="1080.6" y="311.5"/>
<use href="#mb" x="1083.5" y="310.0"/>
<use href="#mb" x="1086.3" y="308.6"/>
<use href="#mb" x="1089.2" y="307.2"/>
<use href="#mb" x="1092.0" y="305.9"/>
<use href="#mb" x="1094.8" y="304.5"/>
<use href="#mb" x="1097.7" y="303.2"/>
<use href="#mb" x="1100.5" y="301.9"/>
<use href="#mb" x="1103.4" y="300.7"/>
<use href="#mb" x="1106.2" y="299.5"/>
<use href="#mb" x="1109.0" y="298.3"/>
<use href="#mb" x="1111.9" y="297.1"/>
<use href="#mb" x="1114.7" y="295.9"/>
<use href="#mb" x="1117.6" y="294.8"/>
<use href="#mb" x="1120.4" y="293.7"/>
<use href="#mb" x="1123.2" y="292.6"/>
<use href="#mb" x="1126.1" y="291.6"/>
<use href="#mb" x="1128.9" y="290.5"/>
<use href="#mb" x="1131.8" y="289.5"/>
<use href="#mb" x="1134.6" y="288.5"/>
<use href="#mb" x="1137.4" y="287.5"/>
<use href="#mb" x="1140.3" y="286.5"/>
<use href="#mb" x="1143.1" y="285.6"/>
<use href="#mb" x="1146.0" y="284.7"/>
<use href="#mb" x="1148.8" y="283.8"/>
<use href="#mb" x="1151.6" y="282.9"/>
<use href="#mb" x="1154.5" y="282.0"/>
<use href="#mb" x="1157.3" y="281.2"/>
<use href="#mb" x="1160.2" y="280.3"/>
<use href="#mb" x="1163.0" y="279.5"/>
<use href="#mb" x="1165.8" y="278.7"/>
<use href="#mb" x="1168.7" y="277.9"/>
<use href="#mb" x="1171.5" y="277.1"/>
<use href="#mb" x="1174.4" y="276.4"/>
<use href="#mb" x="1177.2" y="275.6"/>
<use href="#mb" x="1180.0" y="274.9"/>
<use href="#mb" x="1182.9" y="274.2"/>
<use href="#mb" x="1185.7" y="273.5"/>
<use href="#mb" x="1188.6" y="272.8"/>
<use href="#mb" x="1191.4" y="272.1"/>
<use href="#mb" x="1194.2" y="271.4"/>
<use href="#mb" x="1197.1" y="270.8"/>
<use href="#mb" x="1199.9" y="270.1"/>
<use href="#mb" x="1202.8" y="269.5"/>
<use href="#mb" x="1205.6" y="268.9"/>
<use href="#mb" x="1208.4" y="268.3"/>
<use href="#mb" x="1211.3" y="267.7"/>
<use href="#mb" x="1214.1" y="267.1"/>
<use href="#mb" x="1217.0" y="266.5"/>
<use href="#mb" x="1219.8" y="265.9"/>
<use href="#mb" x="1222.6" y="265.4"/>
<use href="#mb" x="1225.5" y="264.8"/>
<use href="#mb" x="1228.3" y="264.3"/>
<use href="#mb" x="1231.2" y="263.8"/>
<use href="#mb" x="1234.0" y="263.2"/>
<use href="#mb" x="1236.8" y="262.7"/>
<use href="#mb" x="1239.7" y="262.2"/>
<use href="#mb" x="1242.5" y="261.7"/>
<use href="#mb" x="1245.4" y="261.2"/>
<use href="#mb" x="1248.2" y="260.8"/>
<use href="#mb" x="1251.0" y="260.3"/>
<use href="#mb" x="1253.9" y="259.8"/>
<use href="#mb" x="1256.7" y="259.4"/>
<use href="#mb" x="1259.6" y="258.9"/>
<use href="#mb" x="1262.4" y="258.5"/>
<use href="#mb" x="1265.2" y="258.0"/>
<use href="#mb" x="1268.1" y="257.6"/>
<use href="#mb" x="1270.9" y="257.2"/>
<use href="#mb" x="1273.8" y="256.7"/>
<use href="#mb" x="1276.6" y="256.3"/>
<use href="#mb" x="1279.4" y="255.9"/>
<use href="#mb" x="1282.3" y="255.5"/>
<use href="#mb" x="1285.1" y="255.1"/>
<use href="#mb" x="1288.0" y="254.7"/>
<use href="#mb" x="1290.8" y="254.3"/>
<use href="#mb" x="1293.6" y="253.9"/>
<use href="#mb" x="1296.5" y="253.5"/>
<use href="#mb" x="1299.3" y="253.2"/>
<use href="#mb" x="1302.2" y="252.8"/>
<use href="#mb" x="1305.0" y="252.4"/>
<use href="#mb" x="1307.8" y="252.0"/>
<use href="#mb" x="1310.7" y="251.7"/>
<use href="#mb" x="1313.5" y="251.3"/>
<use href="#mb" x="1316.4" y="250.9"/>
<use href="#mb" x="1319.2" y="250.6"/>
<use href="#mb" x="1322.0" y="250.2"/>
<use href="#mb" x="1324.9" y="249.8"/>
<use href="#mb" x="1327.7" y="249.5"/>
<use href="#mb" x="1330.6" y="249.1"/>
<use href="#mb" x="1333.4" y="248.8"/>
<use href="#mb" x="1336.2" y="248.4"/>
<use href="#mb" x="1339.1" y="248.1"/>
<use href="#mb" x="1341.9" y="247.7"/>
<use href="#mb" x="1344.8" y="247.3"/>
<use href="#mb" x="1347.6" y="247.0"/>
</g>
<path d="M211.60,1.90V1061.70M1347.60,1.90V1063.75M209.55,1061.70H1349.65" fill="none" stroke="#000" stroke-width="4.1"/>
<line x1="209.55" x2="1349.65" y1="3.45" y2="3.45" stroke="#000" stroke-width="3.3"/>
<line x1="209.55" x2="1349.65" y1="0.9" y2="0.9" stroke="#c8c8c8" stroke-width="1.8"/>
<line x1="213.65" x2="1345.55" y1="5.95" y2="5.95" stroke="#c4c4c4" stroke-width="1.9"/>
<line x1="194.8" x2="211.6" y1="1040.8" y2="1040.8" stroke="#000" stroke-width="4.1"/>
<text x="107.34" y="1057.75" class="tl">0.0</text>
<line x1="204.1" x2="211.6" y1="939.1" y2="939.1" stroke="#000" stroke-width="4.1"/>
<line x1="194.8" x2="211.6" y1="837.3" y2="837.3" stroke="#000" stroke-width="4.1"/>
<text x="107.34" y="854.22" class="tl">0.2</text>
<line x1="204.1" x2="211.6" y1="735.6" y2="735.6" stroke="#000" stroke-width="4.1"/>
<line x1="194.8" x2="211.6" y1="633.8" y2="633.8" stroke="#000" stroke-width="4.1"/>
<text x="107.34" y="650.69" class="tl">0.4</text>
<line x1="204.1" x2="211.6" y1="532.0" y2="532.0" stroke="#000" stroke-width="4.1"/>
<line x1="194.8" x2="211.6" y1="430.3" y2="430.3" stroke="#000" stroke-width="4.1"/>
<text x="107.34" y="447.16" class="tl">0.6</text>
<line x1="204.1" x2="211.6" y1="328.5" y2="328.5" stroke="#000" stroke-width="4.1"/>
<line x1="194.8" x2="211.6" y1="226.7" y2="226.7" stroke="#000" stroke-width="4.1"/>
<text x="107.34" y="243.63" class="tl">0.8</text>
<line x1="204.1" x2="211.6" y1="125.0" y2="125.0" stroke="#000" stroke-width="4.1"/>
<line x1="194.8" x2="211.6" y1="23.2" y2="23.2" stroke="#000" stroke-width="4.1"/>
<text x="107.34" y="40.10" class="tl"> .0</text><path transform="translate(107.34,40.10) scale(0.02686,-0.02581)" d="M763 0H583V1147Q518 1085 412 1023Q307 961 223 930V1104Q374 1175 487 1276Q600 1377 647 1466H763Z"/>
<line x1="211.6" x2="211.6" y1="1061.7" y2="1077.2" stroke="#000" stroke-width="4.1"/>
<text x="195.41" y="1130.90" class="tl">0</text>
<line x1="325.2" x2="325.2" y1="1061.7" y2="1069.2" stroke="#000" stroke-width="4.1"/>
<line x1="438.8" x2="438.8" y1="1061.7" y2="1077.2" stroke="#000" stroke-width="4.1"/>
<text x="392.02" y="1130.90" class="tl">400</text>
<line x1="552.4" x2="552.4" y1="1061.7" y2="1069.2" stroke="#000" stroke-width="4.1"/>
<line x1="666.0" x2="666.0" y1="1061.7" y2="1077.2" stroke="#000" stroke-width="4.1"/>
<text x="619.22" y="1130.90" class="tl">800</text>
<line x1="779.6" x2="779.6" y1="1061.7" y2="1069.2" stroke="#000" stroke-width="4.1"/>
<line x1="893.2" x2="893.2" y1="1061.7" y2="1077.2" stroke="#000" stroke-width="4.1"/>
<text x="831.12" y="1130.90" class="tl"> 200</text><path transform="translate(831.12,1130.90) scale(0.02686,-0.02581)" d="M763 0H583V1147Q518 1085 412 1023Q307 961 223 930V1104Q374 1175 487 1276Q600 1377 647 1466H763Z"/>
<line x1="1006.8" x2="1006.8" y1="1061.7" y2="1069.2" stroke="#000" stroke-width="4.1"/>
<line x1="1120.4" x2="1120.4" y1="1061.7" y2="1077.2" stroke="#000" stroke-width="4.1"/>
<text x="1058.32" y="1130.90" class="tl"> 600</text><path transform="translate(1058.32,1130.90) scale(0.02686,-0.02581)" d="M763 0H583V1147Q518 1085 412 1023Q307 961 223 930V1104Q374 1175 487 1276Q600 1377 647 1466H763Z"/>
<line x1="1234.0" x2="1234.0" y1="1061.7" y2="1069.2" stroke="#000" stroke-width="4.1"/>
<line x1="1347.6" x2="1347.6" y1="1061.7" y2="1077.2" stroke="#000" stroke-width="4.1"/>
<text x="1285.52" y="1130.90" class="tl">2000</text>
<text transform="translate(778.8,1232.4) scale(1.015,1)" text-anchor="middle" class="at">Time (Seconds)</text>
<text transform="translate(54.8,530.4) rotate(-90) scale(1.008,1)" text-anchor="middle" class="at">Mole Fraction (kmol/kmol)</text>
<text transform="translate(-2.2,53.2) scale(1.018,1)" class="pl">(a)</text>
<line x1="1064.5" x2="1184.3" y1="64.1" y2="64.1" stroke="#57a6f8" stroke-width="4.6" stroke-linecap="round"/>
<use href="#mb" x="1124.4" y="63.5"/>
<text transform="translate(1199.0,81.0) scale(1.03,1)" class="lg">C<tspan class="sb" dx="-2.4" dy="16.5">2</tspan><tspan dx="2.4" dy="-16.5">H</tspan><tspan class="sb" dx="-3.2" dy="16.5">4</tspan></text>
<line x1="1064.5" x2="1184.3" y1="149.6" y2="149.6" stroke="#fb7658" stroke-width="4.6" stroke-linecap="round"/>
<use href="#mr" x="1124.4" y="149.0"/>
<text transform="translate(1199.0,166.5) scale(1.03,1)" class="lg">C<tspan class="sb" dx="-2.4" dy="16.5">2</tspan><tspan dx="2.4" dy="-16.5">H</tspan><tspan class="sb" dx="-3.2" dy="16.5">6</tspan></text>
<clipPath id="cb"><rect x="1674.4" y="5.4" width="1131.9" height="1054.2"/></clipPath>
<g clip-path="url(#cb)">
<use href="#mr" x="1672.4" y="23.2"/>
<use href="#mr" x="1678.7" y="23.5"/>
<use href="#mr" x="1685.0" y="23.8"/>
<use href="#mr" x="1691.3" y="24.0"/>
<use href="#mr" x="1697.6" y="24.2"/>
<use href="#mr" x="1704.0" y="24.4"/>
<use href="#mr" x="1710.3" y="24.6"/>
<use href="#mr" x="1716.6" y="24.8"/>
<use href="#mr" x="1722.9" y="25.0"/>
<use href="#mr" x="1729.2" y="25.1"/>
<use href="#mr" x="1735.5" y="25.3"/>
<use href="#mr" x="1741.8" y="25.5"/>
<use href="#mr" x="1748.1" y="25.6"/>
<use href="#mr" x="1754.4" y="25.8"/>
<use href="#mr" x="1760.8" y="26.0"/>
<use href="#mr" x="1767.1" y="26.1"/>
<use href="#mr" x="1773.4" y="26.3"/>
<use href="#mr" x="1779.7" y="26.5"/>
<use href="#mr" x="1786.0" y="26.8"/>
<use href="#mr" x="1792.3" y="27.0"/>
<use href="#mr" x="1798.6" y="27.3"/>
<use href="#mr" x="1804.9" y="27.5"/>
<use href="#mr" x="1811.2" y="27.9"/>
<use href="#mr" x="1817.6" y="28.2"/>
<use href="#mr" x="1823.9" y="28.6"/>
<use href="#mr" x="1830.2" y="29.0"/>
<use href="#mr" x="1836.5" y="29.4"/>
<use href="#mr" x="1842.8" y="29.9"/>
<use href="#mr" x="1849.1" y="30.4"/>
<use href="#mr" x="1855.4" y="31.0"/>
<use href="#mr" x="1861.7" y="31.6"/>
<use href="#mr" x="1868.0" y="32.3"/>
<use href="#mr" x="1874.4" y="33.0"/>
<use href="#mr" x="1880.7" y="33.8"/>
<use href="#mr" x="1887.0" y="34.6"/>
<use href="#mr" x="1893.3" y="35.5"/>
<use href="#mr" x="1899.6" y="36.5"/>
<use href="#mr" x="1905.9" y="37.5"/>
<use href="#mr" x="1912.2" y="38.6"/>
<use href="#mr" x="1918.5" y="39.8"/>
<use href="#mr" x="1924.8" y="41.1"/>
<use href="#mr" x="1931.2" y="42.4"/>
<use href="#mr" x="1937.5" y="43.9"/>
<use href="#mr" x="1943.8" y="45.4"/>
<use href="#mr" x="1950.1" y="47.0"/>
<use href="#mr" x="1956.4" y="48.8"/>
<use href="#mr" x="1962.7" y="50.6"/>
<use href="#mr" x="1969.0" y="52.6"/>
<use href="#mr" x="1975.3" y="54.6"/>
<use href="#mr" x="1981.6" y="56.8"/>
<use href="#mr" x="1988.0" y="59.2"/>
<use href="#mr" x="1994.3" y="61.6"/>
<use href="#mr" x="2000.6" y="64.2"/>
<use href="#mr" x="2006.9" y="67.0"/>
<use href="#mr" x="2013.2" y="69.9"/>
<use href="#mr" x="2019.5" y="73.0"/>
<use href="#mr" x="2025.8" y="76.2"/>
<use href="#mr" x="2032.1" y="79.6"/>
<use href="#mr" x="2038.4" y="83.1"/>
<use href="#mr" x="2044.8" y="86.9"/>
<use href="#mr" x="2051.1" y="90.8"/>
<use href="#mr" x="2057.4" y="94.8"/>
<use href="#mr" x="2063.7" y="99.1"/>
<use href="#mr" x="2070.0" y="103.6"/>
<use href="#mr" x="2076.3" y="108.2"/>
<use href="#mr" x="2082.6" y="113.1"/>
<use href="#mr" x="2088.9" y="118.2"/>
<use href="#mr" x="2095.2" y="123.5"/>
<use href="#mr" x="2101.6" y="129.0"/>
<use href="#mr" x="2107.9" y="134.8"/>
<use href="#mr" x="2114.2" y="140.9"/>
<use href="#mr" x="2120.5" y="147.3"/>
<use href="#mr" x="2126.8" y="153.9"/>
<use href="#mr" x="2133.1" y="160.9"/>
<use href="#mr" x="2139.4" y="168.2"/>
<use href="#mr" x="2145.7" y="175.9"/>
<use href="#mr" x="2152.0" y="183.9"/>
<use href="#mr" x="2158.4" y="192.3"/>
<use href="#mr" x="2164.7" y="200.8"/>
<use href="#mr" x="2171.0" y="209.5"/>
<use href="#mr" x="2177.3" y="218.3"/>
<use href="#mr" x="2183.6" y="227.2"/>
<use href="#mr" x="2189.9" y="236.0"/>
<use href="#mr" x="2196.2" y="244.9"/>
<use href="#mr" x="2202.5" y="253.8"/>
<use href="#mr" x="2208.8" y="262.5"/>
<use href="#mr" x="2215.2" y="271.2"/>
<use href="#mr" x="2221.5" y="279.7"/>
<use href="#mr" x="2227.8" y="288.1"/>
<use href="#mr" x="2234.1" y="296.4"/>
<use href="#mr" x="2240.4" y="304.4"/>
<use href="#mr" x="2246.7" y="312.3"/>
<use href="#mr" x="2253.0" y="320.0"/>
<use href="#mr" x="2259.3" y="327.5"/>
<use href="#mr" x="2265.6" y="334.9"/>
<use href="#mr" x="2272.0" y="342.0"/>
<use href="#mr" x="2278.3" y="348.9"/>
<use href="#mr" x="2284.6" y="355.7"/>
<use href="#mr" x="2290.9" y="362.2"/>
<use href="#mr" x="2297.2" y="368.6"/>
<use href="#mr" x="2303.5" y="374.7"/>
<use href="#mr" x="2309.8" y="380.7"/>
<use href="#mr" x="2316.1" y="386.5"/>
<use href="#mr" x="2322.4" y="392.0"/>
<use href="#mr" x="2328.8" y="397.4"/>
<use href="#mr" x="2335.1" y="402.5"/>
<use href="#mr" x="2341.4" y="407.5"/>
<use href="#mr" x="2347.7" y="412.3"/>
<use href="#mr" x="2354.0" y="416.9"/>
<use href="#mr" x="2360.3" y="421.3"/>
<use href="#mr" x="2366.6" y="425.5"/>
<use href="#mr" x="2372.9" y="429.6"/>
<use href="#mr" x="2379.2" y="433.4"/>
<use href="#mr" x="2385.6" y="437.1"/>
<use href="#mr" x="2391.9" y="440.7"/>
<use href="#mr" x="2398.2" y="444.0"/>
<use href="#mr" x="2404.5" y="447.2"/>
<use href="#mr" x="2410.8" y="450.3"/>
<use href="#mr" x="2417.1" y="453.2"/>
<use href="#mr" x="2423.4" y="456.0"/>
<use href="#mr" x="2429.7" y="458.8"/>
<use href="#mr" x="2436.0" y="461.4"/>
<use href="#mr" x="2442.4" y="463.8"/>
<use href="#mr" x="2448.7" y="466.3"/>
<use href="#mr" x="2455.0" y="468.6"/>
<use href="#mr" x="2461.3" y="470.8"/>
<use href="#mr" x="2467.6" y="472.9"/>
<use href="#mr" x="2473.9" y="475.0"/>
<use href="#mr" x="2480.2" y="477.0"/>
<use href="#mr" x="2486.5" y="479.0"/>
<use href="#mr" x="2492.8" y="480.8"/>
<use href="#mr" x="2499.2" y="482.7"/>
<use href="#mr" x="2505.5" y="484.4"/>
<use href="#mr" x="2511.8" y="486.1"/>
<use href="#mr" x="2518.1" y="487.7"/>
<use href="#mr" x="2524.4" y="489.3"/>
<use href="#mr" x="2530.7" y="490.8"/>
<use href="#mr" x="2537.0" y="492.3"/>
<use href="#mr" x="2543.3" y="493.7"/>
<use href="#mr" x="2549.6" y="495.1"/>
<use href="#mr" x="2556.0" y="496.4"/>
<use href="#mr" x="2562.3" y="497.7"/>
<use href="#mr" x="2568.6" y="498.9"/>
<use href="#mr" x="2574.9" y="500.1"/>
<use href="#mr" x="2581.2" y="501.3"/>
<use href="#mr" x="2587.5" y="502.4"/>
<use href="#mr" x="2593.8" y="503.4"/>
<use href="#mr" x="2600.1" y="504.4"/>
<use href="#mr" x="2606.4" y="505.4"/>
<use href="#mr" x="2612.8" y="506.4"/>
<use href="#mr" x="2619.1" y="507.3"/>
<use href="#mr" x="2625.4" y="508.2"/>
<use href="#mr" x="2631.7" y="509.0"/>
<use href="#mr" x="2638.0" y="509.9"/>
<use href="#mr" x="2644.3" y="510.7"/>
<use href="#mr" x="2650.6" y="511.4"/>
<use href="#mr" x="2656.9" y="512.2"/>
<use href="#mr" x="2663.2" y="512.9"/>
<use href="#mr" x="2669.6" y="513.5"/>
<use href="#mr" x="2675.9" y="514.2"/>
<use href="#mr" x="2682.2" y="514.8"/>
<use href="#mr" x="2688.5" y="515.5"/>
<use href="#mr" x="2694.8" y="516.1"/>
<use href="#mr" x="2701.1" y="516.6"/>
<use href="#mr" x="2707.4" y="517.2"/>
<use href="#mr" x="2713.7" y="517.7"/>
<use href="#mr" x="2720.0" y="518.3"/>
<use href="#mr" x="2726.4" y="518.8"/>
<use href="#mr" x="2732.7" y="519.3"/>
<use href="#mr" x="2739.0" y="519.8"/>
<use href="#mr" x="2745.3" y="520.2"/>
<use href="#mr" x="2751.6" y="520.7"/>
<use href="#mr" x="2757.9" y="521.2"/>
<use href="#mr" x="2764.2" y="521.6"/>
<use href="#mr" x="2770.5" y="522.0"/>
<use href="#mr" x="2776.8" y="522.5"/>
<use href="#mr" x="2783.2" y="522.9"/>
<use href="#mr" x="2789.5" y="523.3"/>
<use href="#mr" x="2795.8" y="523.8"/>
<use href="#mr" x="2802.1" y="524.2"/>
<use href="#mr" x="2808.4" y="524.6"/>
<use href="#mb" x="1672.4" y="1040.8"/>
<use href="#mb" x="1678.7" y="1040.6"/>
<use href="#mb" x="1685.0" y="1040.3"/>
<use href="#mb" x="1691.3" y="1040.1"/>
<use href="#mb" x="1697.6" y="1039.9"/>
<use href="#mb" x="1704.0" y="1039.7"/>
<use href="#mb" x="1710.3" y="1039.5"/>
<use href="#mb" x="1716.6" y="1039.3"/>
<use href="#mb" x="1722.9" y="1039.1"/>
<use href="#mb" x="1729.2" y="1038.9"/>
<use href="#mb" x="1735.5" y="1038.7"/>
<use href="#mb" x="1741.8" y="1038.5"/>
<use href="#mb" x="1748.1" y="1038.3"/>
<use href="#mb" x="1754.4" y="1038.1"/>
<use href="#mb" x="1760.8" y="1037.9"/>
<use href="#mb" x="1767.1" y="1037.7"/>
<use href="#mb" x="1773.4" y="1037.4"/>
<use href="#mb" x="1779.7" y="1037.2"/>
<use href="#mb" x="1786.0" y="1036.9"/>
<use href="#mb" x="1792.3" y="1036.6"/>
<use href="#mb" x="1798.6" y="1036.3"/>
<use href="#mb" x="1804.9" y="1036.0"/>
<use href="#mb" x="1811.2" y="1035.6"/>
<use href="#mb" x="1817.6" y="1035.2"/>
<use href="#mb" x="1823.9" y="1034.8"/>
<use href="#mb" x="1830.2" y="1034.4"/>
<use href="#mb" x="1836.5" y="1033.9"/>
<use href="#mb" x="1842.8" y="1033.4"/>
<use href="#mb" x="1849.1" y="1032.8"/>
<use href="#mb" x="1855.4" y="1032.2"/>
<use href="#mb" x="1861.7" y="1031.6"/>
<use href="#mb" x="1868.0" y="1030.9"/>
<use href="#mb" x="1874.4" y="1030.2"/>
<use href="#mb" x="1880.7" y="1029.5"/>
<use href="#mb" x="1887.0" y="1028.6"/>
<use href="#mb" x="1893.3" y="1027.8"/>
<use href="#mb" x="1899.6" y="1026.9"/>
<use href="#mb" x="1905.9" y="1025.9"/>
<use href="#mb" x="1912.2" y="1024.8"/>
<use href="#mb" x="1918.5" y="1023.7"/>
<use href="#mb" x="1924.8" y="1022.6"/>
<use href="#mb" x="1931.2" y="1021.3"/>
<use href="#mb" x="1937.5" y="1020.0"/>
<use href="#mb" x="1943.8" y="1018.7"/>
<use href="#mb" x="1950.1" y="1017.2"/>
<use href="#mb" x="1956.4" y="1015.7"/>
<use href="#mb" x="1962.7" y="1014.1"/>
<use href="#mb" x="1969.0" y="1012.4"/>
<use href="#mb" x="1975.3" y="1010.6"/>
<use href="#mb" x="1981.6" y="1008.7"/>
<use href="#mb" x="1988.0" y="1006.7"/>
<use href="#mb" x="1994.3" y="1004.5"/>
<use href="#mb" x="2000.6" y="1002.3"/>
<use href="#mb" x="2006.9" y="999.8"/>
<use href="#mb" x="2013.2" y="997.2"/>
<use href="#mb" x="2019.5" y="994.5"/>
<use href="#mb" x="2025.8" y="991.5"/>
<use href="#mb" x="2032.1" y="988.3"/>
<use href="#mb" x="2038.4" y="984.8"/>
<use href="#mb" x="2044.8" y="981.1"/>
<use href="#mb" x="2051.1" y="977.1"/>
<use href="#mb" x="2057.4" y="972.9"/>
<use href="#mb" x="2063.7" y="968.3"/>
<use href="#mb" x="2070.0" y="963.5"/>
<use href="#mb" x="2076.3" y="958.4"/>
<use href="#mb" x="2082.6" y="952.9"/>
<use href="#mb" x="2088.9" y="947.2"/>
<use href="#mb" x="2095.2" y="941.2"/>
<use href="#mb" x="2101.6" y="934.8"/>
<use href="#mb" x="2107.9" y="928.2"/>
<use href="#mb" x="2114.2" y="921.4"/>
<use href="#mb" x="2120.5" y="914.2"/>
<use href="#mb" x="2126.8" y="906.8"/>
<use href="#mb" x="2133.1" y="899.1"/>
<use href="#mb" x="2139.4" y="891.2"/>
<use href="#mb" x="2145.7" y="883.1"/>
<use href="#mb" x="2152.0" y="874.8"/>
<use href="#mb" x="2158.4" y="866.3"/>
<use href="#mb" x="2164.7" y="857.7"/>
<use href="#mb" x="2171.0" y="849.1"/>
<use href="#mb" x="2177.3" y="840.3"/>
<use href="#mb" x="2183.6" y="831.6"/>
<use href="#mb" x="2189.9" y="822.8"/>
<use href="#mb" x="2196.2" y="814.0"/>
<use href="#mb" x="2202.5" y="805.3"/>
<use href="#mb" x="2208.8" y="796.7"/>
<use href="#mb" x="2215.2" y="788.1"/>
<use href="#mb" x="2221.5" y="779.7"/>
<use href="#mb" x="2227.8" y="771.4"/>
<use href="#mb" x="2234.1" y="763.2"/>
<use href="#mb" x="2240.4" y="755.2"/>
<use href="#mb" x="2246.7" y="747.4"/>
<use href="#mb" x="2253.0" y="739.8"/>
<use href="#mb" x="2259.3" y="732.4"/>
<use href="#mb" x="2265.6" y="725.2"/>
<use href="#mb" x="2272.0" y="718.2"/>
<use href="#mb" x="2278.3" y="711.5"/>
<use href="#mb" x="2284.6" y="705.0"/>
<use href="#mb" x="2290.9" y="698.7"/>
<use href="#mb" x="2297.2" y="692.6"/>
<use href="#mb" x="2303.5" y="686.8"/>
<use href="#mb" x="2309.8" y="681.2"/>
<use href="#mb" x="2316.1" y="675.8"/>
<use href="#mb" x="2322.4" y="670.6"/>
<use href="#mb" x="2328.8" y="665.6"/>
<use href="#mb" x="2335.1" y="660.8"/>
<use href="#mb" x="2341.4" y="656.2"/>
<use href="#mb" x="2347.7" y="651.7"/>
<use href="#mb" x="2354.0" y="647.4"/>
<use href="#mb" x="2360.3" y="643.2"/>
<use href="#mb" x="2366.6" y="639.2"/>
<use href="#mb" x="2372.9" y="635.3"/>
<use href="#mb" x="2379.2" y="631.5"/>
<use href="#mb" x="2385.6" y="627.8"/>
<use href="#mb" x="2391.9" y="624.3"/>
<use href="#mb" x="2398.2" y="620.9"/>
<use href="#mb" x="2404.5" y="617.5"/>
<use href="#mb" x="2410.8" y="614.3"/>
<use href="#mb" x="2417.1" y="611.2"/>
<use href="#mb" x="2423.4" y="608.2"/>
<use href="#mb" x="2429.7" y="605.2"/>
<use href="#mb" x="2436.0" y="602.4"/>
<use href="#mb" x="2442.4" y="599.7"/>
<use href="#mb" x="2448.7" y="597.0"/>
<use href="#mb" x="2455.0" y="594.4"/>
<use href="#mb" x="2461.3" y="592.0"/>
<use href="#mb" x="2467.6" y="589.6"/>
<use href="#mb" x="2473.9" y="587.2"/>
<use href="#mb" x="2480.2" y="585.0"/>
<use href="#mb" x="2486.5" y="582.8"/>
<use href="#mb" x="2492.8" y="580.7"/>
<use href="#mb" x="2499.2" y="578.7"/>
<use href="#mb" x="2505.5" y="576.7"/>
<use href="#mb" x="2511.8" y="574.9"/>
<use href="#mb" x="2518.1" y="573.0"/>
<use href="#mb" x="2524.4" y="571.3"/>
<use href="#mb" x="2530.7" y="569.6"/>
<use href="#mb" x="2537.0" y="568.0"/>
<use href="#mb" x="2543.3" y="566.4"/>
<use href="#mb" x="2549.6" y="564.9"/>
<use href="#mb" x="2556.0" y="563.5"/>
<use href="#mb" x="2562.3" y="562.1"/>
<use href="#mb" x="2568.6" y="560.8"/>
<use href="#mb" x="2574.9" y="559.5"/>
<use href="#mb" x="2581.2" y="558.3"/>
<use href="#mb" x="2587.5" y="557.1"/>
<use href="#mb" x="2593.8" y="556.0"/>
<use href="#mb" x="2600.1" y="555.0"/>
<use href="#mb" x="2606.4" y="553.9"/>
<use href="#mb" x="2612.8" y="553.0"/>
<use href="#mb" x="2619.1" y="552.0"/>
<use href="#mb" x="2625.4" y="551.2"/>
<use href="#mb" x="2631.7" y="550.3"/>
<use href="#mb" x="2638.0" y="549.5"/>
<use href="#mb" x="2644.3" y="548.8"/>
<use href="#mb" x="2650.6" y="548.0"/>
<use href="#mb" x="2656.9" y="547.4"/>
<use href="#mb" x="2663.2" y="546.7"/>
<use href="#mb" x="2669.6" y="546.1"/>
<use href="#mb" x="2675.9" y="545.5"/>
<use href="#mb" x="2682.2" y="545.0"/>
<use href="#mb" x="2688.5" y="544.5"/>
<use href="#mb" x="2694.8" y="544.0"/>
<use href="#mb" x="2701.1" y="543.6"/>
<use href="#mb" x="2707.4" y="543.2"/>
<use href="#mb" x="2713.7" y="542.8"/>
<use href="#mb" x="2720.0" y="542.4"/>
<use href="#mb" x="2726.4" y="542.1"/>
<use href="#mb" x="2732.7" y="541.8"/>
<use href="#mb" x="2739.0" y="541.5"/>
<use href="#mb" x="2745.3" y="541.2"/>
<use href="#mb" x="2751.6" y="541.0"/>
<use href="#mb" x="2757.9" y="540.8"/>
<use href="#mb" x="2764.2" y="540.6"/>
<use href="#mb" x="2770.5" y="540.4"/>
<use href="#mb" x="2776.8" y="540.3"/>
<use href="#mb" x="2783.2" y="540.1"/>
<use href="#mb" x="2789.5" y="540.0"/>
<use href="#mb" x="2795.8" y="539.9"/>
<use href="#mb" x="2802.1" y="539.8"/>
<use href="#mb" x="2808.4" y="539.7"/>
</g>
<path d="M1672.40,1.90V1061.70M2808.40,1.90V1063.75M1670.35,1061.70H2810.45" fill="none" stroke="#000" stroke-width="4.1"/>
<line x1="1670.35" x2="2810.45" y1="3.45" y2="3.45" stroke="#000" stroke-width="3.3"/>
<line x1="1670.35" x2="2810.45" y1="0.9" y2="0.9" stroke="#c8c8c8" stroke-width="1.8"/>
<line x1="1674.45" x2="2806.35" y1="5.95" y2="5.95" stroke="#c4c4c4" stroke-width="1.9"/>
<line x1="1655.6" x2="1672.4" y1="1040.8" y2="1040.8" stroke="#000" stroke-width="4.1"/>
<text x="1568.14" y="1057.75" class="tl">0.0</text>
<line x1="1664.9" x2="1672.4" y1="939.1" y2="939.1" stroke="#000" stroke-width="4.1"/>
<line x1="1655.6" x2="1672.4" y1="837.3" y2="837.3" stroke="#000" stroke-width="4.1"/>
<text x="1568.14" y="854.22" class="tl">0.2</text>
<line x1="1664.9" x2="1672.4" y1="735.6" y2="735.6" stroke="#000" stroke-width="4.1"/>
<line x1="1655.6" x2="1672.4" y1="633.8" y2="633.8" stroke="#000" stroke-width="4.1"/>
<text x="1568.14" y="650.69" class="tl">0.4</text>
<line x1="1664.9" x2="1672.4" y1="532.0" y2="532.0" stroke="#000" stroke-width="4.1"/>
<line x1="1655.6" x2="1672.4" y1="430.3" y2="430.3" stroke="#000" stroke-width="4.1"/>
<text x="1568.14" y="447.16" class="tl">0.6</text>
<line x1="1664.9" x2="1672.4" y1="328.5" y2="328.5" stroke="#000" stroke-width="4.1"/>
<line x1="1655.6" x2="1672.4" y1="226.7" y2="226.7" stroke="#000" stroke-width="4.1"/>
<text x="1568.14" y="243.63" class="tl">0.8</text>
<line x1="1664.9" x2="1672.4" y1="125.0" y2="125.0" stroke="#000" stroke-width="4.1"/>
<line x1="1655.6" x2="1672.4" y1="23.2" y2="23.2" stroke="#000" stroke-width="4.1"/>
<text x="1568.14" y="40.10" class="tl"> .0</text><path transform="translate(1568.14,40.10) scale(0.02686,-0.02581)" d="M763 0H583V1147Q518 1085 412 1023Q307 961 223 930V1104Q374 1175 487 1276Q600 1377 647 1466H763Z"/>
<line x1="1672.4" x2="1672.4" y1="1061.7" y2="1077.2" stroke="#000" stroke-width="4.1"/>
<text x="1656.21" y="1130.90" class="tl">0</text>
<line x1="1767.1" x2="1767.1" y1="1061.7" y2="1069.2" stroke="#000" stroke-width="4.1"/>
<line x1="1861.7" x2="1861.7" y1="1061.7" y2="1077.2" stroke="#000" stroke-width="4.1"/>
<text x="1814.95" y="1130.90" class="tl">600</text>
<line x1="1956.4" x2="1956.4" y1="1061.7" y2="1069.2" stroke="#000" stroke-width="4.1"/>
<line x1="2051.1" x2="2051.1" y1="1061.7" y2="1077.2" stroke="#000" stroke-width="4.1"/>
<text x="1988.99" y="1130.90" class="tl"> 200</text><path transform="translate(1988.99,1130.90) scale(0.02686,-0.02581)" d="M763 0H583V1147Q518 1085 412 1023Q307 961 223 930V1104Q374 1175 487 1276Q600 1377 647 1466H763Z"/>
<line x1="2145.7" x2="2145.7" y1="1061.7" y2="1069.2" stroke="#000" stroke-width="4.1"/>
<line x1="2240.4" x2="2240.4" y1="1061.7" y2="1077.2" stroke="#000" stroke-width="4.1"/>
<text x="2178.32" y="1130.90" class="tl"> 800</text><path transform="translate(2178.32,1130.90) scale(0.02686,-0.02581)" d="M763 0H583V1147Q518 1085 412 1023Q307 961 223 930V1104Q374 1175 487 1276Q600 1377 647 1466H763Z"/>
<line x1="2335.1" x2="2335.1" y1="1061.7" y2="1069.2" stroke="#000" stroke-width="4.1"/>
<line x1="2429.7" x2="2429.7" y1="1061.7" y2="1077.2" stroke="#000" stroke-width="4.1"/>
<text x="2367.66" y="1130.90" class="tl">2400</text>
<line x1="2524.4" x2="2524.4" y1="1061.7" y2="1069.2" stroke="#000" stroke-width="4.1"/>
<line x1="2619.1" x2="2619.1" y1="1061.7" y2="1077.2" stroke="#000" stroke-width="4.1"/>
<text x="2556.99" y="1130.90" class="tl">3000</text>
<line x1="2713.7" x2="2713.7" y1="1061.7" y2="1069.2" stroke="#000" stroke-width="4.1"/>
<line x1="2808.4" x2="2808.4" y1="1061.7" y2="1077.2" stroke="#000" stroke-width="4.1"/>
<text x="2746.32" y="1130.90" class="tl">3600</text>
<text transform="translate(2239.6,1232.4) scale(1.015,1)" text-anchor="middle" class="at">Time (Seconds)</text>
<text transform="translate(1515.6,530.4) rotate(-90) scale(1.008,1)" text-anchor="middle" class="at">Mole Fraction (kmol/kmol)</text>
<text transform="translate(1457.2,54.4) scale(1.018,1)" class="pl">(b)</text>
<line x1="2525.3" x2="2645.1" y1="64.1" y2="64.1" stroke="#57a6f8" stroke-width="4.6" stroke-linecap="round"/>
<use href="#mb" x="2585.2" y="63.5"/>
<text transform="translate(2659.8,81.0) scale(1.03,1)" class="lg">C<tspan class="sb" dx="-2.4" dy="16.5">2</tspan><tspan dx="2.4" dy="-16.5">H</tspan><tspan class="sb" dx="-3.2" dy="16.5">4</tspan></text>
<line x1="2525.3" x2="2645.1" y1="149.6" y2="149.6" stroke="#fb7658" stroke-width="4.6" stroke-linecap="round"/>
<use href="#mr" x="2585.2" y="149.0"/>
<text transform="translate(2659.8,166.5) scale(1.03,1)" class="lg">C<tspan class="sb" dx="-2.4" dy="16.5">2</tspan><tspan dx="2.4" dy="-16.5">H</tspan><tspan class="sb" dx="-3.2" dy="16.5">6</tspan></text>
</svg></div></body></html>
